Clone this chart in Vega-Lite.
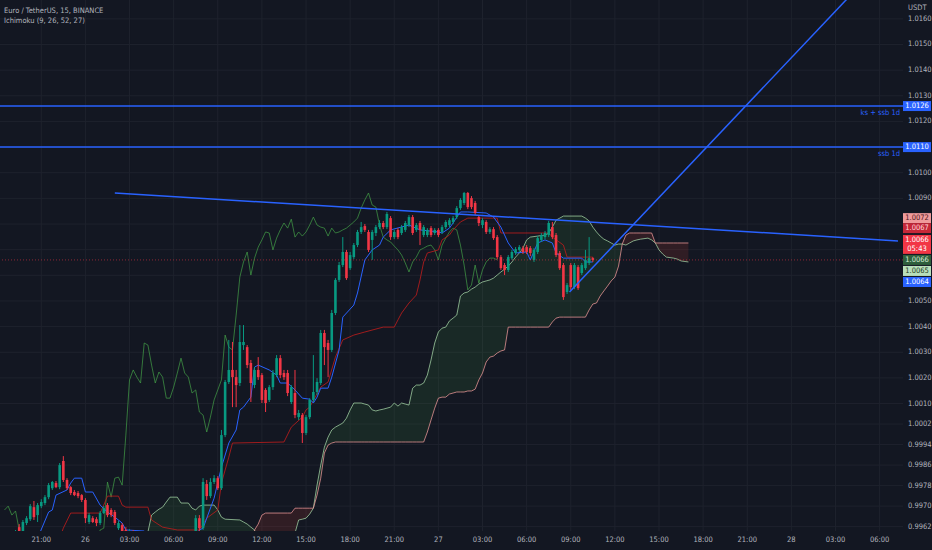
{
  "$schema": "https://vega.github.io/schema/vega-lite/v6.json",
  "description": "EUR/USDT 15m candles with Ichimoku (9, 26, 52, 27) and drawn levels, Binance.",
  "width": 903,
  "height": 531,
  "autosize": {"type": "none"},
  "padding": {"left": 0, "top": 0, "right": 29, "bottom": 19},
  "background": "#131722",
  "title": {
    "text": "Euro / TetherUS, 15, BINANCE",
    "subtitle": "Ichimoku (9, 26, 52, 27)",
    "anchor": "start",
    "orient": "top",
    "frame": "group",
    "offset": -25,
    "dx": 4,
    "fontSize": 7.5,
    "fontWeight": "normal",
    "color": "#b2b5be",
    "subtitleFontSize": 7.5,
    "subtitleColor": "#b2b5be",
    "subtitlePadding": 3
  },
  "datasets": {
    "xticks": [
      {"t":"2022-10-25T21:00Z","label":"21:00"},{"t":"2022-10-26T00:00Z","label":"26"},{"t":"2022-10-26T03:00Z","label":"03:00"},
      {"t":"2022-10-26T06:00Z","label":"06:00"},{"t":"2022-10-26T09:00Z","label":"09:00"},{"t":"2022-10-26T12:00Z","label":"12:00"},
      {"t":"2022-10-26T15:00Z","label":"15:00"},{"t":"2022-10-26T18:00Z","label":"18:00"},{"t":"2022-10-26T21:00Z","label":"21:00"},
      {"t":"2022-10-27T00:00Z","label":"27"},{"t":"2022-10-27T03:00Z","label":"03:00"},{"t":"2022-10-27T06:00Z","label":"06:00"},
      {"t":"2022-10-27T09:00Z","label":"09:00"},{"t":"2022-10-27T12:00Z","label":"12:00"},{"t":"2022-10-27T15:00Z","label":"15:00"},
      {"t":"2022-10-27T18:00Z","label":"18:00"},{"t":"2022-10-27T21:00Z","label":"21:00"},{"t":"2022-10-28T00:00Z","label":"28"},
      {"t":"2022-10-28T03:00Z","label":"03:00"},{"t":"2022-10-28T06:00Z","label":"06:00"}
    ],
    "yticks": [
      {"v":0.9962,"label":"0.9962"},{"v":0.9970,"label":"0.9970"},{"v":0.9978,"label":"0.9978"},{"v":0.9986,"label":"0.9986"},
      {"v":0.9994,"label":"0.9994"},{"v":1.0002,"label":"1.0002"},{"v":1.0010,"label":"1.0010"},{"v":1.0020,"label":"1.0020"},
      {"v":1.0030,"label":"1.0030"},{"v":1.0040,"label":"1.0040"},{"v":1.0050,"label":"1.0050"},{"v":1.0060,"label":""},
      {"v":1.0070,"label":""},{"v":1.0080,"label":""},{"v":1.0090,"label":"1.0090"},{"v":1.0100,"label":"1.0100"},
      {"v":1.0110,"label":""},{"v":1.0120,"label":"1.0120"},{"v":1.0130,"label":"1.0130"},{"v":1.0140,"label":"1.0140"},
      {"v":1.0150,"label":"1.0150"},{"v":1.0160,"label":"1.0160"}
    ],
    "unit": [{"p":1.01642,"label":"USDT"}],
    "candles": [
      {"t":"2022-10-25T18:45Z","o":0.99575,"h":0.99587,"l":0.99548,"c":0.99564},
      {"t":"2022-10-25T19:00Z","o":0.99564,"h":0.99583,"l":0.99552,"c":0.99579},
      {"t":"2022-10-25T19:15Z","o":0.99579,"h":0.99607,"l":0.99568,"c":0.99595},
      {"t":"2022-10-25T19:30Z","o":0.99618,"h":0.99630,"l":0.99579,"c":0.99595},
      {"t":"2022-10-25T19:45Z","o":0.99595,"h":0.99646,"l":0.99587,"c":0.99638},
      {"t":"2022-10-25T20:00Z","o":0.99634,"h":0.99661,"l":0.99626,"c":0.99653},
      {"t":"2022-10-25T20:15Z","o":0.99649,"h":0.99708,"l":0.99642,"c":0.99700},
      {"t":"2022-10-25T20:30Z","o":0.99696,"h":0.99720,"l":0.99646,"c":0.99657},
      {"t":"2022-10-25T20:45Z","o":0.99665,"h":0.99712,"l":0.99638,"c":0.99704},
      {"t":"2022-10-25T21:00Z","o":0.99700,"h":0.99727,"l":0.99692,"c":0.99716},
      {"t":"2022-10-25T21:15Z","o":0.99712,"h":0.99743,"l":0.99704,"c":0.99735},
      {"t":"2022-10-25T21:30Z","o":0.99735,"h":0.99790,"l":0.99727,"c":0.99782},
      {"t":"2022-10-25T21:45Z","o":0.99770,"h":0.99798,"l":0.99763,"c":0.99794},
      {"t":"2022-10-25T22:00Z","o":0.99790,"h":0.99798,"l":0.99770,"c":0.99774},
      {"t":"2022-10-25T22:15Z","o":0.99774,"h":0.99868,"l":0.99766,"c":0.99860},
      {"t":"2022-10-25T22:30Z","o":0.99876,"h":0.99895,"l":0.99794,"c":0.99802},
      {"t":"2022-10-25T22:45Z","o":0.99802,"h":0.99809,"l":0.99763,"c":0.99770},
      {"t":"2022-10-25T23:00Z","o":0.99774,"h":0.99778,"l":0.99743,"c":0.99751},
      {"t":"2022-10-25T23:15Z","o":0.99755,"h":0.99763,"l":0.99739,"c":0.99743},
      {"t":"2022-10-25T23:30Z","o":0.99751,"h":0.99759,"l":0.99731,"c":0.99739},
      {"t":"2022-10-25T23:45Z","o":0.99743,"h":0.99747,"l":0.99716,"c":0.99724},
      {"t":"2022-10-26T00:00Z","o":0.99724,"h":0.99731,"l":0.99634,"c":0.99653},
      {"t":"2022-10-26T00:15Z","o":0.99638,"h":0.99673,"l":0.99630,"c":0.99665},
      {"t":"2022-10-26T00:30Z","o":0.99653,"h":0.99661,"l":0.99634,"c":0.99638},
      {"t":"2022-10-26T00:45Z","o":0.99649,"h":0.99657,"l":0.99622,"c":0.99634},
      {"t":"2022-10-26T01:00Z","o":0.99634,"h":0.99681,"l":0.99626,"c":0.99673},
      {"t":"2022-10-26T01:15Z","o":0.99673,"h":0.99700,"l":0.99669,"c":0.99692},
      {"t":"2022-10-26T01:30Z","o":0.99704,"h":0.99712,"l":0.99657,"c":0.99665},
      {"t":"2022-10-26T01:45Z","o":0.99685,"h":0.99692,"l":0.99657,"c":0.99665},
      {"t":"2022-10-26T02:00Z","o":0.99677,"h":0.99685,"l":0.99626,"c":0.99634},
      {"t":"2022-10-26T02:15Z","o":0.99614,"h":0.99642,"l":0.99607,"c":0.99634},
      {"t":"2022-10-26T02:30Z","o":0.99626,"h":0.99634,"l":0.99587,"c":0.99599},
      {"t":"2022-10-26T02:45Z","o":0.99607,"h":0.99618,"l":0.99579,"c":0.99591},
      {"t":"2022-10-26T03:00Z","o":0.99587,"h":0.99610,"l":0.99579,"c":0.99603},
      {"t":"2022-10-26T03:15Z","o":0.99599,"h":0.99607,"l":0.99568,"c":0.99579},
      {"t":"2022-10-26T03:30Z","o":0.99583,"h":0.99591,"l":0.99556,"c":0.99568},
      {"t":"2022-10-26T03:45Z","o":0.99568,"h":0.99583,"l":0.99536,"c":0.99548},
      {"t":"2022-10-26T04:00Z","o":0.99548,"h":0.99560,"l":0.99529,"c":0.99536},
      {"t":"2022-10-26T04:15Z","o":0.99536,"h":0.99560,"l":0.99532,"c":0.99552},
      {"t":"2022-10-26T04:30Z","o":0.99552,"h":0.99556,"l":0.99521,"c":0.99529},
      {"t":"2022-10-26T04:45Z","o":0.99529,"h":0.99536,"l":0.99505,"c":0.99517},
      {"t":"2022-10-26T05:00Z","o":0.99517,"h":0.99540,"l":0.99505,"c":0.99532},
      {"t":"2022-10-26T05:15Z","o":0.99532,"h":0.99544,"l":0.99517,"c":0.99521},
      {"t":"2022-10-26T05:30Z","o":0.99521,"h":0.99532,"l":0.99505,"c":0.99517},
      {"t":"2022-10-26T05:45Z","o":0.99517,"h":0.99536,"l":0.99505,"c":0.99529},
      {"t":"2022-10-26T06:00Z","o":0.99529,"h":0.99548,"l":0.99521,"c":0.99540},
      {"t":"2022-10-26T06:15Z","o":0.99540,"h":0.99548,"l":0.99529,"c":0.99532},
      {"t":"2022-10-26T06:30Z","o":0.99532,"h":0.99560,"l":0.99529,"c":0.99552},
      {"t":"2022-10-26T06:45Z","o":0.99552,"h":0.99560,"l":0.99536,"c":0.99544},
      {"t":"2022-10-26T07:00Z","o":0.99544,"h":0.99575,"l":0.99540,"c":0.99568},
      {"t":"2022-10-26T07:15Z","o":0.99568,"h":0.99595,"l":0.99560,"c":0.99587},
      {"t":"2022-10-26T07:30Z","o":0.99587,"h":0.99665,"l":0.99575,"c":0.99653},
      {"t":"2022-10-26T07:45Z","o":0.99653,"h":0.99665,"l":0.99599,"c":0.99614},
      {"t":"2022-10-26T08:00Z","o":0.99614,"h":0.99809,"l":0.99607,"c":0.99794},
      {"t":"2022-10-26T08:15Z","o":0.99786,"h":0.99802,"l":0.99724,"c":0.99739},
      {"t":"2022-10-26T08:30Z","o":0.99739,"h":0.99809,"l":0.99731,"c":0.99794},
      {"t":"2022-10-26T08:45Z","o":0.99794,"h":0.99821,"l":0.99786,"c":0.99809},
      {"t":"2022-10-26T09:00Z","o":0.99809,"h":0.99817,"l":0.99763,"c":0.99770},
      {"t":"2022-10-26T09:15Z","o":0.99770,"h":0.99997,"l":0.99763,"c":0.99977},
      {"t":"2022-10-26T09:30Z","o":0.99977,"h":1.00192,"l":0.99969,"c":1.00184},
      {"t":"2022-10-26T09:45Z","o":1.00184,"h":1.00348,"l":1.00176,"c":1.00231},
      {"t":"2022-10-26T10:00Z","o":1.00231,"h":1.00340,"l":1.00086,"c":1.00203},
      {"t":"2022-10-26T10:15Z","o":1.00203,"h":1.00231,"l":1.00086,"c":1.00172},
      {"t":"2022-10-26T10:30Z","o":1.00180,"h":1.00406,"l":1.00168,"c":1.00340},
      {"t":"2022-10-26T10:45Z","o":1.00328,"h":1.00406,"l":1.00309,"c":1.00340},
      {"t":"2022-10-26T11:00Z","o":1.00320,"h":1.00328,"l":1.00238,"c":1.00250},
      {"t":"2022-10-26T11:15Z","o":1.00258,"h":1.00270,"l":1.00106,"c":1.00180},
      {"t":"2022-10-26T11:30Z","o":1.00172,"h":1.00242,"l":1.00160,"c":1.00231},
      {"t":"2022-10-26T11:45Z","o":1.00231,"h":1.00281,"l":1.00192,"c":1.00203},
      {"t":"2022-10-26T12:00Z","o":1.00211,"h":1.00219,"l":1.00102,"c":1.00114},
      {"t":"2022-10-26T12:15Z","o":1.00153,"h":1.00160,"l":1.00067,"c":1.00102},
      {"t":"2022-10-26T12:30Z","o":1.00114,"h":1.00172,"l":1.00106,"c":1.00164},
      {"t":"2022-10-26T12:45Z","o":1.00164,"h":1.00231,"l":1.00153,"c":1.00219},
      {"t":"2022-10-26T13:00Z","o":1.00211,"h":1.00289,"l":1.00203,"c":1.00277},
      {"t":"2022-10-26T13:15Z","o":1.00277,"h":1.00289,"l":1.00199,"c":1.00211},
      {"t":"2022-10-26T13:30Z","o":1.00219,"h":1.00231,"l":1.00192,"c":1.00203},
      {"t":"2022-10-26T13:45Z","o":1.00219,"h":1.00231,"l":1.00129,"c":1.00141},
      {"t":"2022-10-26T14:00Z","o":1.00106,"h":1.00172,"l":1.00098,"c":1.00164},
      {"t":"2022-10-26T14:15Z","o":1.00141,"h":1.00231,"l":1.00043,"c":1.00055},
      {"t":"2022-10-26T14:30Z","o":1.00047,"h":1.00075,"l":1.00036,"c":1.00063},
      {"t":"2022-10-26T14:45Z","o":1.00055,"h":1.00063,"l":0.99946,"c":0.99985},
      {"t":"2022-10-26T15:00Z","o":0.99985,"h":1.00055,"l":0.99977,"c":1.00047},
      {"t":"2022-10-26T15:15Z","o":1.00047,"h":1.00121,"l":1.00039,"c":1.00114},
      {"t":"2022-10-26T15:30Z","o":1.00114,"h":1.00289,"l":1.00106,"c":1.00145},
      {"t":"2022-10-26T15:45Z","o":1.00145,"h":1.00199,"l":1.00133,"c":1.00184},
      {"t":"2022-10-26T16:00Z","o":1.00180,"h":1.00387,"l":1.00172,"c":1.00375},
      {"t":"2022-10-26T16:15Z","o":1.00375,"h":1.00387,"l":1.00250,"c":1.00320},
      {"t":"2022-10-26T16:30Z","o":1.00336,"h":1.00348,"l":1.00203,"c":1.00309},
      {"t":"2022-10-26T16:45Z","o":1.00309,"h":1.00465,"l":1.00301,"c":1.00453},
      {"t":"2022-10-26T17:00Z","o":1.00453,"h":1.00589,"l":1.00445,"c":1.00582},
      {"t":"2022-10-26T17:15Z","o":1.00582,"h":1.00652,"l":1.00574,"c":1.00640},
      {"t":"2022-10-26T17:30Z","o":1.00640,"h":1.00749,"l":1.00632,"c":1.00691},
      {"t":"2022-10-26T17:45Z","o":1.00691,"h":1.00699,"l":1.00582,"c":1.00589},
      {"t":"2022-10-26T18:00Z","o":1.00628,"h":1.00691,"l":1.00621,"c":1.00679},
      {"t":"2022-10-26T18:15Z","o":1.00671,"h":1.00726,"l":1.00663,"c":1.00718},
      {"t":"2022-10-26T18:30Z","o":1.00718,"h":1.00777,"l":1.00710,"c":1.00769},
      {"t":"2022-10-26T18:45Z","o":1.00769,"h":1.00808,"l":1.00761,"c":1.00788},
      {"t":"2022-10-26T19:00Z","o":1.00792,"h":1.00800,"l":1.00769,"c":1.00777},
      {"t":"2022-10-26T19:15Z","o":1.00769,"h":1.00777,"l":1.00691,"c":1.00699},
      {"t":"2022-10-26T19:30Z","o":1.00738,"h":1.00777,"l":1.00660,"c":1.00769},
      {"t":"2022-10-26T19:45Z","o":1.00765,"h":1.00796,"l":1.00753,"c":1.00788},
      {"t":"2022-10-26T20:00Z","o":1.00788,"h":1.00815,"l":1.00780,"c":1.00804},
      {"t":"2022-10-26T20:15Z","o":1.00804,"h":1.00812,"l":1.00780,"c":1.00788},
      {"t":"2022-10-26T20:30Z","o":1.00788,"h":1.00847,"l":1.00780,"c":1.00839},
      {"t":"2022-10-26T20:45Z","o":1.00823,"h":1.00831,"l":1.00738,"c":1.00749},
      {"t":"2022-10-26T21:00Z","o":1.00749,"h":1.00777,"l":1.00741,"c":1.00769},
      {"t":"2022-10-26T21:15Z","o":1.00777,"h":1.00784,"l":1.00741,"c":1.00749},
      {"t":"2022-10-26T21:30Z","o":1.00765,"h":1.00796,"l":1.00757,"c":1.00788},
      {"t":"2022-10-26T21:45Z","o":1.00777,"h":1.00812,"l":1.00769,"c":1.00804},
      {"t":"2022-10-26T22:00Z","o":1.00796,"h":1.00835,"l":1.00788,"c":1.00827},
      {"t":"2022-10-26T22:15Z","o":1.00827,"h":1.00835,"l":1.00757,"c":1.00765},
      {"t":"2022-10-26T22:30Z","o":1.00777,"h":1.00804,"l":1.00769,"c":1.00796},
      {"t":"2022-10-26T22:45Z","o":1.00804,"h":1.00812,"l":1.00718,"c":1.00777},
      {"t":"2022-10-26T23:00Z","o":1.00757,"h":1.00796,"l":1.00749,"c":1.00788},
      {"t":"2022-10-26T23:15Z","o":1.00757,"h":1.00784,"l":1.00749,"c":1.00777},
      {"t":"2022-10-26T23:30Z","o":1.00784,"h":1.00792,"l":1.00749,"c":1.00757},
      {"t":"2022-10-26T23:45Z","o":1.00765,"h":1.00784,"l":1.00757,"c":1.00777},
      {"t":"2022-10-27T00:00Z","o":1.00777,"h":1.00784,"l":1.00749,"c":1.00757},
      {"t":"2022-10-27T00:15Z","o":1.00769,"h":1.00796,"l":1.00761,"c":1.00788},
      {"t":"2022-10-27T00:30Z","o":1.00788,"h":1.00815,"l":1.00780,"c":1.00808},
      {"t":"2022-10-27T00:45Z","o":1.00796,"h":1.00823,"l":1.00788,"c":1.00815},
      {"t":"2022-10-27T01:00Z","o":1.00808,"h":1.00831,"l":1.00800,"c":1.00823},
      {"t":"2022-10-27T01:15Z","o":1.00827,"h":1.00870,"l":1.00819,"c":1.00862},
      {"t":"2022-10-27T01:30Z","o":1.00862,"h":1.00901,"l":1.00855,"c":1.00894},
      {"t":"2022-10-27T01:45Z","o":1.00882,"h":1.00925,"l":1.00874,"c":1.00921},
      {"t":"2022-10-27T02:00Z","o":1.00921,"h":1.00925,"l":1.00858,"c":1.00866},
      {"t":"2022-10-27T02:15Z","o":1.00901,"h":1.00909,"l":1.00858,"c":1.00866},
      {"t":"2022-10-27T02:30Z","o":1.00882,"h":1.00890,"l":1.00835,"c":1.00843},
      {"t":"2022-10-27T02:45Z","o":1.00827,"h":1.00835,"l":1.00792,"c":1.00804},
      {"t":"2022-10-27T03:00Z","o":1.00796,"h":1.00823,"l":1.00784,"c":1.00815},
      {"t":"2022-10-27T03:15Z","o":1.00808,"h":1.00815,"l":1.00761,"c":1.00769},
      {"t":"2022-10-27T03:30Z","o":1.00769,"h":1.00788,"l":1.00761,"c":1.00780},
      {"t":"2022-10-27T03:45Z","o":1.00780,"h":1.00788,"l":1.00738,"c":1.00745},
      {"t":"2022-10-27T04:00Z","o":1.00749,"h":1.00757,"l":1.00663,"c":1.00671},
      {"t":"2022-10-27T04:15Z","o":1.00671,"h":1.00679,"l":1.00621,"c":1.00628},
      {"t":"2022-10-27T04:30Z","o":1.00640,"h":1.00648,"l":1.00601,"c":1.00621},
      {"t":"2022-10-27T04:45Z","o":1.00621,"h":1.00679,"l":1.00613,"c":1.00671},
      {"t":"2022-10-27T05:00Z","o":1.00667,"h":1.00699,"l":1.00660,"c":1.00691},
      {"t":"2022-10-27T05:15Z","o":1.00687,"h":1.00710,"l":1.00679,"c":1.00702},
      {"t":"2022-10-27T05:30Z","o":1.00699,"h":1.00718,"l":1.00691,"c":1.00710},
      {"t":"2022-10-27T05:45Z","o":1.00706,"h":1.00714,"l":1.00683,"c":1.00691},
      {"t":"2022-10-27T06:00Z","o":1.00710,"h":1.00718,"l":1.00683,"c":1.00691},
      {"t":"2022-10-27T06:15Z","o":1.00706,"h":1.00714,"l":1.00675,"c":1.00687},
      {"t":"2022-10-27T06:30Z","o":1.00660,"h":1.00706,"l":1.00652,"c":1.00699},
      {"t":"2022-10-27T06:45Z","o":1.00691,"h":1.00753,"l":1.00683,"c":1.00745},
      {"t":"2022-10-27T07:00Z","o":1.00738,"h":1.00765,"l":1.00730,"c":1.00757},
      {"t":"2022-10-27T07:15Z","o":1.00749,"h":1.00773,"l":1.00741,"c":1.00765},
      {"t":"2022-10-27T07:30Z","o":1.00757,"h":1.00812,"l":1.00749,"c":1.00804},
      {"t":"2022-10-27T07:45Z","o":1.00788,"h":1.00808,"l":1.00741,"c":1.00749},
      {"t":"2022-10-27T08:00Z","o":1.00757,"h":1.00765,"l":1.00671,"c":1.00679},
      {"t":"2022-10-27T08:15Z","o":1.00687,"h":1.00695,"l":1.00621,"c":1.00628},
      {"t":"2022-10-27T08:30Z","o":1.00640,"h":1.00648,"l":1.00504,"c":1.00515},
      {"t":"2022-10-27T08:45Z","o":1.00535,"h":1.00570,"l":1.00527,"c":1.00562},
      {"t":"2022-10-27T09:00Z","o":1.00640,"h":1.00648,"l":1.00543,"c":1.00554},
      {"t":"2022-10-27T09:15Z","o":1.00554,"h":1.00648,"l":1.00546,"c":1.00640},
      {"t":"2022-10-27T09:30Z","o":1.00632,"h":1.00640,"l":1.00543,"c":1.00550},
      {"t":"2022-10-27T09:45Z","o":1.00609,"h":1.00648,"l":1.00601,"c":1.00640},
      {"t":"2022-10-27T10:00Z","o":1.00628,"h":1.00699,"l":1.00621,"c":1.00660},
      {"t":"2022-10-27T10:15Z","o":1.00648,"h":1.00749,"l":1.00640,"c":1.00667},
      {"t":"2022-10-27T10:30Z","o":1.00667,"h":1.00671,"l":1.00652,"c":1.00660}
    ],
    "tenkan": [
      {"t":"2022-10-25T20:45Z","v":0.99575},{"t":"2022-10-25T21:30Z","v":0.99677},{"t":"2022-10-25T21:45Z","v":0.99685},
      {"t":"2022-10-25T22:00Z","v":0.99743},{"t":"2022-10-25T22:45Z","v":0.99763},{"t":"2022-10-25T23:00Z","v":0.99790},
      {"t":"2022-10-25T23:15Z","v":0.99809},{"t":"2022-10-25T23:45Z","v":0.99809},{"t":"2022-10-26T00:00Z","v":0.99755},
      {"t":"2022-10-26T00:30Z","v":0.99755},{"t":"2022-10-26T01:00Z","v":0.99704},{"t":"2022-10-26T01:30Z","v":0.99677},
      {"t":"2022-10-26T02:00Z","v":0.99657},{"t":"2022-10-26T02:30Z","v":0.99634},{"t":"2022-10-26T02:45Z","v":0.99607},
      {"t":"2022-10-26T04:00Z","v":0.99603},{"t":"2022-10-26T04:30Z","v":0.99548},{"t":"2022-10-26T07:00Z","v":0.99548},
      {"t":"2022-10-26T07:45Z","v":0.99607},{"t":"2022-10-26T08:00Z","v":0.99614},{"t":"2022-10-26T08:45Z","v":0.99731},
      {"t":"2022-10-26T09:15Z","v":0.99852},{"t":"2022-10-26T09:45Z","v":0.99946},{"t":"2022-10-26T10:15Z","v":0.99997},
      {"t":"2022-10-26T10:30Z","v":1.00075},{"t":"2022-10-26T10:45Z","v":1.00086},{"t":"2022-10-26T11:15Z","v":1.00125},
      {"t":"2022-10-26T11:30Z","v":1.00242},{"t":"2022-10-26T11:45Z","v":1.00250},{"t":"2022-10-26T12:30Z","v":1.00231},
      {"t":"2022-10-26T13:00Z","v":1.00211},{"t":"2022-10-26T13:15Z","v":1.00180},{"t":"2022-10-26T13:45Z","v":1.00180},
      {"t":"2022-10-26T14:15Z","v":1.00153},{"t":"2022-10-26T14:45Z","v":1.00121},{"t":"2022-10-26T15:15Z","v":1.00117},
      {"t":"2022-10-26T15:30Z","v":1.00102},{"t":"2022-10-26T15:45Z","v":1.00125},{"t":"2022-10-26T16:00Z","v":1.00160},
      {"t":"2022-10-26T16:30Z","v":1.00160},{"t":"2022-10-26T16:45Z","v":1.00203},{"t":"2022-10-26T17:15Z","v":1.00309},
      {"t":"2022-10-26T17:30Z","v":1.00437},{"t":"2022-10-26T18:15Z","v":1.00484},{"t":"2022-10-26T18:30Z","v":1.00531},
      {"t":"2022-10-26T19:00Z","v":1.00660},{"t":"2022-10-26T19:30Z","v":1.00699},{"t":"2022-10-26T20:00Z","v":1.00718},
      {"t":"2022-10-26T20:15Z","v":1.00749},{"t":"2022-10-26T20:45Z","v":1.00777},{"t":"2022-10-26T22:00Z","v":1.00796},
      {"t":"2022-10-26T22:45Z","v":1.00777},{"t":"2022-10-27T00:00Z","v":1.00769},{"t":"2022-10-27T00:15Z","v":1.00765},
      {"t":"2022-10-27T00:45Z","v":1.00784},{"t":"2022-10-27T01:00Z","v":1.00804},{"t":"2022-10-27T01:15Z","v":1.00827},
      {"t":"2022-10-27T01:30Z","v":1.00847},{"t":"2022-10-27T02:00Z","v":1.00847},{"t":"2022-10-27T03:15Z","v":1.00843},
      {"t":"2022-10-27T03:45Z","v":1.00827},{"t":"2022-10-27T04:15Z","v":1.00788},{"t":"2022-10-27T04:45Z","v":1.00726},
      {"t":"2022-10-27T05:15Z","v":1.00687},{"t":"2022-10-27T06:00Z","v":1.00691},{"t":"2022-10-27T06:15Z","v":1.00660},
      {"t":"2022-10-27T06:45Z","v":1.00726},{"t":"2022-10-27T07:15Z","v":1.00738},{"t":"2022-10-27T07:45Z","v":1.00726},
      {"t":"2022-10-27T08:00Z","v":1.00687},{"t":"2022-10-27T08:30Z","v":1.00667},{"t":"2022-10-27T09:45Z","v":1.00667},
      {"t":"2022-10-27T10:00Z","v":1.00652},{"t":"2022-10-27T10:30Z","v":1.00652}
    ],
    "kijun": [
      {"t":"2022-10-25T22:15Z","v":0.99575},{"t":"2022-10-25T22:30Z","v":0.99614},{"t":"2022-10-25T23:00Z","v":0.99673},
      {"t":"2022-10-26T01:00Z","v":0.99673},{"t":"2022-10-26T01:15Z","v":0.99704},{"t":"2022-10-26T01:30Z","v":0.99739},
      {"t":"2022-10-26T02:15Z","v":0.99739},{"t":"2022-10-26T02:30Z","v":0.99704},{"t":"2022-10-26T02:45Z","v":0.99696},
      {"t":"2022-10-26T04:15Z","v":0.99696},{"t":"2022-10-26T04:30Z","v":0.99646},{"t":"2022-10-26T05:15Z","v":0.99618},
      {"t":"2022-10-26T06:15Z","v":0.99607},{"t":"2022-10-26T07:45Z","v":0.99607},{"t":"2022-10-26T08:15Z","v":0.99653},
      {"t":"2022-10-26T09:00Z","v":0.99685},{"t":"2022-10-26T09:15Z","v":0.99790},{"t":"2022-10-26T09:45Z","v":0.99891},
      {"t":"2022-10-26T10:00Z","v":0.99946},{"t":"2022-10-26T13:30Z","v":0.99950},{"t":"2022-10-26T14:00Z","v":1.00008},
      {"t":"2022-10-26T14:45Z","v":1.00047},{"t":"2022-10-26T15:00Z","v":1.00075},{"t":"2022-10-26T15:15Z","v":1.00086},
      {"t":"2022-10-26T16:00Z","v":1.00164},{"t":"2022-10-26T16:30Z","v":1.00184},{"t":"2022-10-26T17:00Z","v":1.00281},
      {"t":"2022-10-26T17:30Z","v":1.00348},{"t":"2022-10-26T18:15Z","v":1.00367},{"t":"2022-10-26T19:00Z","v":1.00379},
      {"t":"2022-10-26T20:15Z","v":1.00398},{"t":"2022-10-26T21:00Z","v":1.00398},{"t":"2022-10-26T21:15Z","v":1.00426},
      {"t":"2022-10-26T21:30Z","v":1.00453},{"t":"2022-10-26T22:00Z","v":1.00492},{"t":"2022-10-26T22:30Z","v":1.00523},
      {"t":"2022-10-26T22:45Z","v":1.00582},{"t":"2022-10-26T23:00Z","v":1.00652},{"t":"2022-10-26T23:15Z","v":1.00687},
      {"t":"2022-10-27T00:00Z","v":1.00699},{"t":"2022-10-27T00:15Z","v":1.00738},{"t":"2022-10-27T00:45Z","v":1.00757},
      {"t":"2022-10-27T01:00Z","v":1.00777},{"t":"2022-10-27T01:30Z","v":1.00808},{"t":"2022-10-27T02:00Z","v":1.00823},
      {"t":"2022-10-27T04:00Z","v":1.00823},{"t":"2022-10-27T04:15Z","v":1.00765},{"t":"2022-10-27T07:30Z","v":1.00765},
      {"t":"2022-10-27T07:45Z","v":1.00749},{"t":"2022-10-27T08:30Z","v":1.00718},{"t":"2022-10-27T08:45Z","v":1.00671},
      {"t":"2022-10-27T10:30Z","v":1.00671}
    ],
    "lagging": [
      {"t":"2022-10-25T18:30Z","v":0.99685},{"t":"2022-10-25T18:45Z","v":0.99700},{"t":"2022-10-25T19:00Z","v":0.99665},
      {"t":"2022-10-25T19:15Z","v":0.99681},{"t":"2022-10-25T19:30Z","v":0.99607},{"t":"2022-10-25T19:45Z","v":0.99575},
      {"t":"2022-10-25T20:15Z","v":0.99548},{"t":"2022-10-25T22:30Z","v":0.99529},{"t":"2022-10-26T00:45Z","v":0.99548},
      {"t":"2022-10-26T01:00Z","v":0.99607},{"t":"2022-10-26T01:15Z","v":0.99614},{"t":"2022-10-26T01:30Z","v":0.99794},
      {"t":"2022-10-26T01:45Z","v":0.99735},{"t":"2022-10-26T02:00Z","v":0.99809},{"t":"2022-10-26T02:15Z","v":0.99813},
      {"t":"2022-10-26T02:30Z","v":0.99782},{"t":"2022-10-26T02:45Z","v":0.99977},{"t":"2022-10-26T03:00Z","v":1.00192},
      {"t":"2022-10-26T03:15Z","v":1.00231},{"t":"2022-10-26T03:30Z","v":1.00203},{"t":"2022-10-26T03:45Z","v":1.00180},
      {"t":"2022-10-26T04:00Z","v":1.00336},{"t":"2022-10-26T04:15Z","v":1.00328},{"t":"2022-10-26T04:30Z","v":1.00250},
      {"t":"2022-10-26T04:45Z","v":1.00180},{"t":"2022-10-26T05:00Z","v":1.00223},{"t":"2022-10-26T05:15Z","v":1.00203},
      {"t":"2022-10-26T05:30Z","v":1.00121},{"t":"2022-10-26T05:45Z","v":1.00121},{"t":"2022-10-26T06:00Z","v":1.00164},
      {"t":"2022-10-26T06:15Z","v":1.00219},{"t":"2022-10-26T06:30Z","v":1.00277},{"t":"2022-10-26T06:45Z","v":1.00219},
      {"t":"2022-10-26T07:00Z","v":1.00203},{"t":"2022-10-26T07:15Z","v":1.00141},{"t":"2022-10-26T07:30Z","v":1.00153},
      {"t":"2022-10-26T07:45Z","v":1.00067},{"t":"2022-10-26T08:00Z","v":1.00055},{"t":"2022-10-26T08:15Z","v":0.99989},
      {"t":"2022-10-26T08:30Z","v":1.00047},{"t":"2022-10-26T08:45Z","v":1.00114},{"t":"2022-10-26T09:00Z","v":1.00153},
      {"t":"2022-10-26T09:15Z","v":1.00192},{"t":"2022-10-26T09:30Z","v":1.00367},{"t":"2022-10-26T09:45Z","v":1.00320},
      {"t":"2022-10-26T10:00Z","v":1.00309},{"t":"2022-10-26T10:15Z","v":1.00445},{"t":"2022-10-26T10:30Z","v":1.00593},
      {"t":"2022-10-26T10:45Z","v":1.00652},{"t":"2022-10-26T11:00Z","v":1.00691},{"t":"2022-10-26T11:15Z","v":1.00601},
      {"t":"2022-10-26T11:30Z","v":1.00667},{"t":"2022-10-26T11:45Z","v":1.00710},{"t":"2022-10-26T12:00Z","v":1.00738},
      {"t":"2022-10-26T12:15Z","v":1.00769},{"t":"2022-10-26T12:30Z","v":1.00765},{"t":"2022-10-26T12:45Z","v":1.00699},
      {"t":"2022-10-26T13:00Z","v":1.00745},{"t":"2022-10-26T13:15Z","v":1.00777},{"t":"2022-10-26T13:30Z","v":1.00804},
      {"t":"2022-10-26T13:45Z","v":1.00784},{"t":"2022-10-26T14:00Z","v":1.00819},{"t":"2022-10-26T14:15Z","v":1.00749},
      {"t":"2022-10-26T14:30Z","v":1.00769},{"t":"2022-10-26T14:45Z","v":1.00753},{"t":"2022-10-26T15:00Z","v":1.00769},
      {"t":"2022-10-26T15:15Z","v":1.00796},{"t":"2022-10-26T15:30Z","v":1.00827},{"t":"2022-10-26T15:45Z","v":1.00796},
      {"t":"2022-10-26T16:00Z","v":1.00788},{"t":"2022-10-26T16:15Z","v":1.00784},{"t":"2022-10-26T16:30Z","v":1.00753},
      {"t":"2022-10-26T16:45Z","v":1.00784},{"t":"2022-10-26T17:00Z","v":1.00765},{"t":"2022-10-26T17:15Z","v":1.00769},
      {"t":"2022-10-26T17:30Z","v":1.00777},{"t":"2022-10-26T17:45Z","v":1.00784},{"t":"2022-10-26T18:00Z","v":1.00796},
      {"t":"2022-10-26T18:15Z","v":1.00808},{"t":"2022-10-26T18:30Z","v":1.00823},{"t":"2022-10-26T18:45Z","v":1.00862},
      {"t":"2022-10-26T19:00Z","v":1.00894},{"t":"2022-10-26T19:15Z","v":1.00921},{"t":"2022-10-26T19:30Z","v":1.00874},
      {"t":"2022-10-26T19:45Z","v":1.00866},{"t":"2022-10-26T20:00Z","v":1.00796},{"t":"2022-10-26T20:15Z","v":1.00749},
      {"t":"2022-10-26T20:30Z","v":1.00738},{"t":"2022-10-26T20:45Z","v":1.00730},{"t":"2022-10-26T21:00Z","v":1.00714},
      {"t":"2022-10-26T21:15Z","v":1.00699},{"t":"2022-10-26T21:30Z","v":1.00679},{"t":"2022-10-26T21:45Z","v":1.00648},
      {"t":"2022-10-26T22:00Z","v":1.00613},{"t":"2022-10-26T22:15Z","v":1.00652},{"t":"2022-10-26T22:30Z","v":1.00671},
      {"t":"2022-10-26T22:45Z","v":1.00699},{"t":"2022-10-26T23:00Z","v":1.00706},{"t":"2022-10-26T23:15Z","v":1.00714},
      {"t":"2022-10-26T23:30Z","v":1.00718},{"t":"2022-10-26T23:45Z","v":1.00699},{"t":"2022-10-27T00:00Z","v":1.00660},
      {"t":"2022-10-27T00:15Z","v":1.00718},{"t":"2022-10-27T00:30Z","v":1.00745},{"t":"2022-10-27T00:45Z","v":1.00769},
      {"t":"2022-10-27T01:00Z","v":1.00784},{"t":"2022-10-27T01:15Z","v":1.00777},{"t":"2022-10-27T01:30Z","v":1.00718},
      {"t":"2022-10-27T01:45Z","v":1.00640},{"t":"2022-10-27T02:00Z","v":1.00543},{"t":"2022-10-27T02:15Z","v":1.00562},
      {"t":"2022-10-27T02:30Z","v":1.00640},{"t":"2022-10-27T02:45Z","v":1.00570},{"t":"2022-10-27T03:00Z","v":1.00621},
      {"t":"2022-10-27T03:15Z","v":1.00652},{"t":"2022-10-27T03:30Z","v":1.00667},{"t":"2022-10-27T03:45Z","v":1.00667},
      {"t":"2022-10-27T04:00Z","v":1.00660}
    ],
    "cloud": [
      {"t":"2022-10-26T04:00Z","a":0.99568,"b":0.99529,"seg":"s1","trend":"up"},
      {"t":"2022-10-26T04:15Z","a":0.99599,"b":0.99529,"seg":"s1","trend":"up"},
      {"t":"2022-10-26T04:30Z","a":0.99665,"b":0.99529,"seg":"s1","trend":"up"},
      {"t":"2022-10-26T04:45Z","a":0.99677,"b":0.99529,"seg":"s1","trend":"up"},
      {"t":"2022-10-26T05:00Z","a":0.99688,"b":0.99529,"seg":"s1","trend":"up"},
      {"t":"2022-10-26T05:15Z","a":0.99696,"b":0.99529,"seg":"s1","trend":"up"},
      {"t":"2022-10-26T05:30Z","a":0.99716,"b":0.99529,"seg":"s1","trend":"up"},
      {"t":"2022-10-26T05:45Z","a":0.99735,"b":0.99529,"seg":"s1","trend":"up"},
      {"t":"2022-10-26T06:15Z","a":0.99735,"b":0.99529,"seg":"s1","trend":"up"},
      {"t":"2022-10-26T06:30Z","a":0.99712,"b":0.99529,"seg":"s1","trend":"up"},
      {"t":"2022-10-26T07:00Z","a":0.99712,"b":0.99529,"seg":"s1","trend":"up"},
      {"t":"2022-10-26T07:15Z","a":0.99692,"b":0.99529,"seg":"s1","trend":"up"},
      {"t":"2022-10-26T07:30Z","a":0.99685,"b":0.99529,"seg":"s1","trend":"up"},
      {"t":"2022-10-26T07:45Z","a":0.99700,"b":0.99529,"seg":"s1","trend":"up"},
      {"t":"2022-10-26T08:00Z","a":0.99704,"b":0.99529,"seg":"s1","trend":"up"},
      {"t":"2022-10-26T08:45Z","a":0.99704,"b":0.99529,"seg":"s1","trend":"up"},
      {"t":"2022-10-26T09:00Z","a":0.99685,"b":0.99529,"seg":"s1","trend":"up"},
      {"t":"2022-10-26T09:15Z","a":0.99657,"b":0.99529,"seg":"s1","trend":"up"},
      {"t":"2022-10-26T09:30Z","a":0.99649,"b":0.99529,"seg":"s1","trend":"up"},
      {"t":"2022-10-26T10:30Z","a":0.99646,"b":0.99529,"seg":"s1","trend":"up"},
      {"t":"2022-10-26T10:45Z","a":0.99638,"b":0.99529,"seg":"s1","trend":"up"},
      {"t":"2022-10-26T11:00Z","a":0.99630,"b":0.99529,"seg":"s1","trend":"up"},
      {"t":"2022-10-26T11:15Z","a":0.99618,"b":0.99529,"seg":"s1","trend":"up"},
      {"t":"2022-10-26T11:30Z","a":0.99607,"b":0.99607,"seg":"s1","trend":"up"},
      {"t":"2022-10-26T11:30Z","a":0.99607,"b":0.99607,"seg":"s2","trend":"down"},
      {"t":"2022-10-26T11:45Z","a":0.99568,"b":0.99630,"seg":"s2","trend":"down"},
      {"t":"2022-10-26T12:00Z","a":0.99548,"b":0.99665,"seg":"s2","trend":"down"},
      {"t":"2022-10-26T12:15Z","a":0.99536,"b":0.99673,"seg":"s2","trend":"down"},
      {"t":"2022-10-26T13:45Z","a":0.99536,"b":0.99673,"seg":"s2","trend":"down"},
      {"t":"2022-10-26T14:00Z","a":0.99548,"b":0.99673,"seg":"s2","trend":"down"},
      {"t":"2022-10-26T14:15Z","a":0.99595,"b":0.99692,"seg":"s2","trend":"down"},
      {"t":"2022-10-26T14:30Z","a":0.99646,"b":0.99692,"seg":"s2","trend":"down"},
      {"t":"2022-10-26T14:45Z","a":0.99649,"b":0.99692,"seg":"s2","trend":"down"},
      {"t":"2022-10-26T15:00Z","a":0.99653,"b":0.99692,"seg":"s2","trend":"down"},
      {"t":"2022-10-26T15:15Z","a":0.99669,"b":0.99692,"seg":"s2","trend":"down"},
      {"t":"2022-10-26T15:30Z","a":0.99692,"b":0.99692,"seg":"s2","trend":"down"},
      {"t":"2022-10-26T15:30Z","a":0.99692,"b":0.99692,"seg":"s3","trend":"up"},
      {"t":"2022-10-26T15:45Z","a":0.99782,"b":0.99743,"seg":"s3","trend":"up"},
      {"t":"2022-10-26T16:00Z","a":0.99860,"b":0.99809,"seg":"s3","trend":"up"},
      {"t":"2022-10-26T16:15Z","a":0.99930,"b":0.99907,"seg":"s3","trend":"up"},
      {"t":"2022-10-26T16:30Z","a":0.99969,"b":0.99938,"seg":"s3","trend":"up"},
      {"t":"2022-10-26T16:45Z","a":0.99997,"b":0.99946,"seg":"s3","trend":"up"},
      {"t":"2022-10-26T17:00Z","a":1.00008,"b":0.99950,"seg":"s3","trend":"up"},
      {"t":"2022-10-26T17:15Z","a":1.00016,"b":0.99950,"seg":"s3","trend":"up"},
      {"t":"2022-10-26T17:30Z","a":1.00024,"b":0.99950,"seg":"s3","trend":"up"},
      {"t":"2022-10-26T17:45Z","a":1.00043,"b":0.99950,"seg":"s3","trend":"up"},
      {"t":"2022-10-26T18:00Z","a":1.00075,"b":0.99950,"seg":"s3","trend":"up"},
      {"t":"2022-10-26T18:15Z","a":1.00102,"b":0.99950,"seg":"s3","trend":"up"},
      {"t":"2022-10-26T18:45Z","a":1.00102,"b":0.99950,"seg":"s3","trend":"up"},
      {"t":"2022-10-26T19:00Z","a":1.00098,"b":0.99950,"seg":"s3","trend":"up"},
      {"t":"2022-10-26T19:15Z","a":1.00094,"b":0.99950,"seg":"s3","trend":"up"},
      {"t":"2022-10-26T19:30Z","a":1.00075,"b":0.99950,"seg":"s3","trend":"up"},
      {"t":"2022-10-26T19:45Z","a":1.00071,"b":0.99950,"seg":"s3","trend":"up"},
      {"t":"2022-10-26T20:00Z","a":1.00075,"b":0.99950,"seg":"s3","trend":"up"},
      {"t":"2022-10-26T20:15Z","a":1.00078,"b":0.99950,"seg":"s3","trend":"up"},
      {"t":"2022-10-26T20:45Z","a":1.00086,"b":0.99950,"seg":"s3","trend":"up"},
      {"t":"2022-10-26T21:00Z","a":1.00102,"b":0.99950,"seg":"s3","trend":"up"},
      {"t":"2022-10-26T21:15Z","a":1.00090,"b":0.99950,"seg":"s3","trend":"up"},
      {"t":"2022-10-26T21:30Z","a":1.00102,"b":0.99950,"seg":"s3","trend":"up"},
      {"t":"2022-10-26T21:45Z","a":1.00098,"b":0.99950,"seg":"s3","trend":"up"},
      {"t":"2022-10-26T22:00Z","a":1.00094,"b":0.99950,"seg":"s3","trend":"up"},
      {"t":"2022-10-26T22:15Z","a":1.00160,"b":0.99950,"seg":"s3","trend":"up"},
      {"t":"2022-10-26T22:30Z","a":1.00172,"b":0.99950,"seg":"s3","trend":"up"},
      {"t":"2022-10-26T22:45Z","a":1.00172,"b":0.99950,"seg":"s3","trend":"up"},
      {"t":"2022-10-26T23:00Z","a":1.00180,"b":0.99950,"seg":"s3","trend":"up"},
      {"t":"2022-10-26T23:15Z","a":1.00211,"b":0.99989,"seg":"s3","trend":"up"},
      {"t":"2022-10-26T23:30Z","a":1.00270,"b":1.00036,"seg":"s3","trend":"up"},
      {"t":"2022-10-26T23:45Z","a":1.00336,"b":1.00082,"seg":"s3","trend":"up"},
      {"t":"2022-10-27T00:00Z","a":1.00379,"b":1.00121,"seg":"s3","trend":"up"},
      {"t":"2022-10-27T00:15Z","a":1.00394,"b":1.00125,"seg":"s3","trend":"up"},
      {"t":"2022-10-27T00:30Z","a":1.00398,"b":1.00125,"seg":"s3","trend":"up"},
      {"t":"2022-10-27T00:45Z","a":1.00422,"b":1.00137,"seg":"s3","trend":"up"},
      {"t":"2022-10-27T01:00Z","a":1.00433,"b":1.00141,"seg":"s3","trend":"up"},
      {"t":"2022-10-27T01:15Z","a":1.00445,"b":1.00145,"seg":"s3","trend":"up"},
      {"t":"2022-10-27T01:30Z","a":1.00519,"b":1.00145,"seg":"s3","trend":"up"},
      {"t":"2022-10-27T01:45Z","a":1.00531,"b":1.00145,"seg":"s3","trend":"up"},
      {"t":"2022-10-27T02:00Z","a":1.00535,"b":1.00149,"seg":"s3","trend":"up"},
      {"t":"2022-10-27T02:15Z","a":1.00546,"b":1.00149,"seg":"s3","trend":"up"},
      {"t":"2022-10-27T02:30Z","a":1.00554,"b":1.00156,"seg":"s3","trend":"up"},
      {"t":"2022-10-27T02:45Z","a":1.00566,"b":1.00192,"seg":"s3","trend":"up"},
      {"t":"2022-10-27T03:00Z","a":1.00574,"b":1.00219,"seg":"s3","trend":"up"},
      {"t":"2022-10-27T03:15Z","a":1.00578,"b":1.00262,"seg":"s3","trend":"up"},
      {"t":"2022-10-27T03:30Z","a":1.00582,"b":1.00281,"seg":"s3","trend":"up"},
      {"t":"2022-10-27T03:45Z","a":1.00589,"b":1.00285,"seg":"s3","trend":"up"},
      {"t":"2022-10-27T04:00Z","a":1.00601,"b":1.00297,"seg":"s3","trend":"up"},
      {"t":"2022-10-27T04:15Z","a":1.00613,"b":1.00305,"seg":"s3","trend":"up"},
      {"t":"2022-10-27T04:30Z","a":1.00624,"b":1.00309,"seg":"s3","trend":"up"},
      {"t":"2022-10-27T04:45Z","a":1.00636,"b":1.00398,"seg":"s3","trend":"up"},
      {"t":"2022-10-27T05:00Z","a":1.00652,"b":1.00398,"seg":"s3","trend":"up"},
      {"t":"2022-10-27T05:15Z","a":1.00671,"b":1.00398,"seg":"s3","trend":"up"},
      {"t":"2022-10-27T05:30Z","a":1.00687,"b":1.00398,"seg":"s3","trend":"up"},
      {"t":"2022-10-27T05:45Z","a":1.00706,"b":1.00398,"seg":"s3","trend":"up"},
      {"t":"2022-10-27T06:00Z","a":1.00738,"b":1.00398,"seg":"s3","trend":"up"},
      {"t":"2022-10-27T06:15Z","a":1.00749,"b":1.00398,"seg":"s3","trend":"up"},
      {"t":"2022-10-27T06:45Z","a":1.00753,"b":1.00398,"seg":"s3","trend":"up"},
      {"t":"2022-10-27T07:15Z","a":1.00757,"b":1.00398,"seg":"s3","trend":"up"},
      {"t":"2022-10-27T07:30Z","a":1.00765,"b":1.00398,"seg":"s3","trend":"up"},
      {"t":"2022-10-27T07:45Z","a":1.00788,"b":1.00418,"seg":"s3","trend":"up"},
      {"t":"2022-10-27T08:00Z","a":1.00815,"b":1.00433,"seg":"s3","trend":"up"},
      {"t":"2022-10-27T08:15Z","a":1.00823,"b":1.00437,"seg":"s3","trend":"up"},
      {"t":"2022-10-27T08:30Z","a":1.00831,"b":1.00437,"seg":"s3","trend":"up"},
      {"t":"2022-10-27T09:45Z","a":1.00831,"b":1.00437,"seg":"s3","trend":"up"},
      {"t":"2022-10-27T10:00Z","a":1.00823,"b":1.00437,"seg":"s3","trend":"up"},
      {"t":"2022-10-27T10:15Z","a":1.00812,"b":1.00465,"seg":"s3","trend":"up"},
      {"t":"2022-10-27T10:30Z","a":1.00788,"b":1.00488,"seg":"s3","trend":"up"},
      {"t":"2022-10-27T10:45Z","a":1.00769,"b":1.00492,"seg":"s3","trend":"up"},
      {"t":"2022-10-27T11:00Z","a":1.00753,"b":1.00519,"seg":"s3","trend":"up"},
      {"t":"2022-10-27T11:15Z","a":1.00741,"b":1.00539,"seg":"s3","trend":"up"},
      {"t":"2022-10-27T11:30Z","a":1.00734,"b":1.00558,"seg":"s3","trend":"up"},
      {"t":"2022-10-27T11:45Z","a":1.00726,"b":1.00578,"seg":"s3","trend":"up"},
      {"t":"2022-10-27T12:00Z","a":1.00718,"b":1.00593,"seg":"s3","trend":"up"},
      {"t":"2022-10-27T12:15Z","a":1.00722,"b":1.00636,"seg":"s3","trend":"up"},
      {"t":"2022-10-27T12:30Z","a":1.00722,"b":1.00722,"seg":"s3","trend":"up"},
      {"t":"2022-10-27T12:30Z","a":1.00722,"b":1.00722,"seg":"s4","trend":"down"},
      {"t":"2022-10-27T12:45Z","a":1.00718,"b":1.00757,"seg":"s4","trend":"down"},
      {"t":"2022-10-27T13:00Z","a":1.00726,"b":1.00765,"seg":"s4","trend":"down"},
      {"t":"2022-10-27T13:15Z","a":1.00734,"b":1.00765,"seg":"s4","trend":"down"},
      {"t":"2022-10-27T13:30Z","a":1.00738,"b":1.00765,"seg":"s4","trend":"down"},
      {"t":"2022-10-27T13:45Z","a":1.00741,"b":1.00765,"seg":"s4","trend":"down"},
      {"t":"2022-10-27T14:15Z","a":1.00745,"b":1.00765,"seg":"s4","trend":"down"},
      {"t":"2022-10-27T14:30Z","a":1.00738,"b":1.00765,"seg":"s4","trend":"down"},
      {"t":"2022-10-27T14:45Z","a":1.00726,"b":1.00726,"seg":"s4","trend":"down"},
      {"t":"2022-10-27T15:00Z","a":1.00699,"b":1.00726,"seg":"s4","trend":"down"},
      {"t":"2022-10-27T15:15Z","a":1.00683,"b":1.00726,"seg":"s4","trend":"down"},
      {"t":"2022-10-27T15:30Z","a":1.00671,"b":1.00726,"seg":"s4","trend":"down"},
      {"t":"2022-10-27T16:00Z","a":1.00667,"b":1.00726,"seg":"s4","trend":"down"},
      {"t":"2022-10-27T16:15Z","a":1.00663,"b":1.00726,"seg":"s4","trend":"down"},
      {"t":"2022-10-27T16:30Z","a":1.00656,"b":1.00726,"seg":"s4","trend":"down"},
      {"t":"2022-10-27T17:00Z","a":1.00652,"b":1.00726,"seg":"s4","trend":"down"}
    ],
    "levels": [
      {"p":1.0126,"note":"ks + ssb 1d"},
      {"p":1.0110,"note":"ssb 1d"}
    ],
    "trends": [
      {"id":"down","t":"2022-10-26T02:00Z","p":1.00921},
      {"id":"down","t":"2022-10-28T07:15Z","p":1.00734},
      {"id":"up","t":"2022-10-27T08:55Z","p":1.00535},
      {"id":"up","t":"2022-10-28T04:30Z","p":1.01721}
    ],
    "lastPrice": [{"p":1.0066}],
    "tags": [
      {"label":"1.0126","at":1.0126,"kind":"level"},
      {"label":"1.0110","at":1.0110,"kind":"level"},
      {"label":"1.0072","at":1.00823,"kind":"spanB"},
      {"label":"1.0067","at":1.00784,"kind":"base"},
      {"label":"1.0066","at":1.0066,"kind":"lagging"},
      {"label":"1.0065","at":1.00617,"kind":"spanA"},
      {"label":"1.0064","at":1.00574,"kind":"conversion"}
    ],
    "priceTag": [
      {"label":"1.0066","at":1.00738},
      {"label":"05:43","at":1.00703}
    ]
  },
  "layer": [
    {
      "data": {"name": "xticks"},
      "mark": {"type": "rule", "color": "#1e222d", "strokeWidth": 1},
      "encoding": {
        "x": {"field": "t", "type": "temporal", "axis": null,
          "scale": {"type": "utc", "domain": [{"year": 2022, "month": 10, "date": 25, "hours": 18, "minutes": 32, "utc": true}, {"year": 2022, "month": 10, "date": 28, "hours": 7, "minutes": 15, "utc": true}]}}
      }
    },
    {
      "data": {"name": "yticks"},
      "mark": {"type": "rule", "color": "#1e222d", "strokeWidth": 1},
      "encoding": {
        "y": {"field": "v", "type": "quantitative", "axis": null, "scale": {"domain": [0.99603, 1.016735], "nice": false, "zero": false}}
      }
    },
    {
      "data": {"name": "cloud"},
      "mark": {"type": "area", "clip": true, "opacity": 0.13},
      "encoding": {
        "x": {"field": "t", "type": "temporal", "axis": null,
          "scale": {"type": "utc", "domain": [{"year": 2022, "month": 10, "date": 25, "hours": 18, "minutes": 32, "utc": true}, {"year": 2022, "month": 10, "date": 28, "hours": 7, "minutes": 15, "utc": true}]}},
        "y": {"field": "a", "type": "quantitative", "axis": null, "scale": {"domain": [0.99603, 1.016735], "nice": false, "zero": false}},
        "y2": {"field": "b"},
        "detail": {"field": "seg"},
        "color": {"field": "trend", "type": "nominal", "scale": {"domain": ["up", "down"], "range": ["#43a047", "#f44336"]}, "legend": null}
      }
    },
    {
      "data": {"name": "cloud"},
      "mark": {"type": "line", "clip": true, "strokeWidth": 1, "color": "#a5d6a7", "opacity": 0.75},
      "encoding": {
        "x": {"field": "t", "type": "temporal", "axis": null,
          "scale": {"type": "utc", "domain": [{"year": 2022, "month": 10, "date": 25, "hours": 18, "minutes": 32, "utc": true}, {"year": 2022, "month": 10, "date": 28, "hours": 7, "minutes": 15, "utc": true}]}},
        "y": {"field": "a", "type": "quantitative", "axis": null, "scale": {"domain": [0.99603, 1.016735], "nice": false, "zero": false}}
      }
    },
    {
      "data": {"name": "cloud"},
      "mark": {"type": "line", "clip": true, "strokeWidth": 1, "color": "#ef9a9a", "opacity": 0.75},
      "encoding": {
        "x": {"field": "t", "type": "temporal", "axis": null,
          "scale": {"type": "utc", "domain": [{"year": 2022, "month": 10, "date": 25, "hours": 18, "minutes": 32, "utc": true}, {"year": 2022, "month": 10, "date": 28, "hours": 7, "minutes": 15, "utc": true}]}},
        "y": {"field": "b", "type": "quantitative", "axis": null, "scale": {"domain": [0.99603, 1.016735], "nice": false, "zero": false}}
      }
    },
    {
      "data": {"name": "lagging"},
      "mark": {"type": "line", "clip": true, "strokeWidth": 1, "color": "#43a047", "opacity": 0.7},
      "encoding": {
        "x": {"field": "t", "type": "temporal", "axis": null,
          "scale": {"type": "utc", "domain": [{"year": 2022, "month": 10, "date": 25, "hours": 18, "minutes": 32, "utc": true}, {"year": 2022, "month": 10, "date": 28, "hours": 7, "minutes": 15, "utc": true}]}},
        "y": {"field": "v", "type": "quantitative", "axis": null, "scale": {"domain": [0.99603, 1.016735], "nice": false, "zero": false}}
      }
    },
    {
      "data": {"name": "kijun"},
      "mark": {"type": "line", "clip": true, "strokeWidth": 1, "color": "#b71c1c", "opacity": 0.85},
      "encoding": {
        "x": {"field": "t", "type": "temporal", "axis": null,
          "scale": {"type": "utc", "domain": [{"year": 2022, "month": 10, "date": 25, "hours": 18, "minutes": 32, "utc": true}, {"year": 2022, "month": 10, "date": 28, "hours": 7, "minutes": 15, "utc": true}]}},
        "y": {"field": "v", "type": "quantitative", "axis": null, "scale": {"domain": [0.99603, 1.016735], "nice": false, "zero": false}}
      }
    },
    {
      "data": {"name": "tenkan"},
      "mark": {"type": "line", "clip": true, "strokeWidth": 1, "color": "#2962ff"},
      "encoding": {
        "x": {"field": "t", "type": "temporal", "axis": null,
          "scale": {"type": "utc", "domain": [{"year": 2022, "month": 10, "date": 25, "hours": 18, "minutes": 32, "utc": true}, {"year": 2022, "month": 10, "date": 28, "hours": 7, "minutes": 15, "utc": true}]}},
        "y": {"field": "v", "type": "quantitative", "axis": null, "scale": {"domain": [0.99603, 1.016735], "nice": false, "zero": false}}
      }
    },
    {
      "data": {"name": "candles"},
      "mark": {"type": "rule", "clip": true, "strokeWidth": 1},
      "encoding": {
        "x": {"field": "t", "type": "temporal", "axis": null,
          "scale": {"type": "utc", "domain": [{"year": 2022, "month": 10, "date": 25, "hours": 18, "minutes": 32, "utc": true}, {"year": 2022, "month": 10, "date": 28, "hours": 7, "minutes": 15, "utc": true}]}},
        "y": {"field": "l", "type": "quantitative", "axis": null, "scale": {"domain": [0.99603, 1.016735], "nice": false, "zero": false}},
        "y2": {"field": "h"},
        "color": {"condition": {"test": "datum.c >= datum.o", "value": "#089981"}, "value": "#f23645"}
      }
    },
    {
      "data": {"name": "candles"},
      "mark": {"type": "bar", "clip": true, "width": 2.6},
      "encoding": {
        "x": {"field": "t", "type": "temporal", "axis": null,
          "scale": {"type": "utc", "domain": [{"year": 2022, "month": 10, "date": 25, "hours": 18, "minutes": 32, "utc": true}, {"year": 2022, "month": 10, "date": 28, "hours": 7, "minutes": 15, "utc": true}]}},
        "y": {"field": "o", "type": "quantitative", "axis": null, "scale": {"domain": [0.99603, 1.016735], "nice": false, "zero": false}},
        "y2": {"field": "c"},
        "color": {"condition": {"test": "datum.c >= datum.o", "value": "#089981"}, "value": "#f23645"}
      }
    },
    {
      "data": {"name": "lastPrice"},
      "mark": {"type": "rule", "color": "#f23645", "opacity": 0.55, "strokeWidth": 1, "strokeDash": [1, 2]},
      "encoding": {
        "y": {"field": "p", "type": "quantitative", "axis": null, "scale": {"domain": [0.99603, 1.016735], "nice": false, "zero": false}}
      }
    },
    {
      "data": {"name": "levels"},
      "mark": {"type": "rule", "color": "#2962ff", "strokeWidth": 1.5},
      "encoding": {
        "y": {"field": "p", "type": "quantitative", "axis": null, "scale": {"domain": [0.99603, 1.016735], "nice": false, "zero": false}}
      }
    },
    {
      "data": {"name": "levels"},
      "mark": {"type": "text", "align": "right", "baseline": "middle", "dx": -3, "dy": 7, "fontSize": 7.5, "color": "#2962ff"},
      "encoding": {
        "x": {"value": "width"},
        "y": {"field": "p", "type": "quantitative", "axis": null, "scale": {"domain": [0.99603, 1.016735], "nice": false, "zero": false}},
        "text": {"field": "note"}
      }
    },
    {
      "data": {"name": "trends"},
      "mark": {"type": "line", "clip": true, "color": "#2962ff", "strokeWidth": 1.5},
      "encoding": {
        "x": {"field": "t", "type": "temporal", "axis": null,
          "scale": {"type": "utc", "domain": [{"year": 2022, "month": 10, "date": 25, "hours": 18, "minutes": 32, "utc": true}, {"year": 2022, "month": 10, "date": 28, "hours": 7, "minutes": 15, "utc": true}]}},
        "y": {"field": "p", "type": "quantitative", "axis": null, "scale": {"domain": [0.99603, 1.016735], "nice": false, "zero": false}},
        "detail": {"field": "id"}
      }
    },
    {
      "data": {"name": "xticks"},
      "mark": {"type": "text", "align": "center", "baseline": "middle", "dy": 9, "fontSize": 7.5, "color": "#b2b5be"},
      "encoding": {
        "x": {"field": "t", "type": "temporal", "axis": null,
          "scale": {"type": "utc", "domain": [{"year": 2022, "month": 10, "date": 25, "hours": 18, "minutes": 32, "utc": true}, {"year": 2022, "month": 10, "date": 28, "hours": 7, "minutes": 15, "utc": true}]}},
        "y": {"value": "height"},
        "text": {"field": "label"}
      }
    },
    {
      "data": {"name": "yticks"},
      "mark": {"type": "text", "align": "left", "baseline": "middle", "dx": 5, "fontSize": 7.5, "color": "#b2b5be"},
      "encoding": {
        "x": {"value": "width"},
        "y": {"field": "v", "type": "quantitative", "axis": null, "scale": {"domain": [0.99603, 1.016735], "nice": false, "zero": false}},
        "text": {"field": "label"}
      }
    },
    {
      "data": {"name": "unit"},
      "mark": {"type": "text", "align": "left", "baseline": "middle", "dx": 5, "fontSize": 7.5, "color": "#b2b5be"},
      "encoding": {
        "x": {"value": "width"},
        "y": {"field": "p", "type": "quantitative", "axis": null, "scale": {"domain": [0.99603, 1.016735], "nice": false, "zero": false}},
        "text": {"field": "label"}
      }
    },
    {
      "data": {"name": "tags"},
      "mark": {"type": "rect", "x2Offset": 28, "yOffset": -5, "y2Offset": 5},
      "encoding": {
        "x": {"value": "width"},
        "x2": {"value": "width"},
        "y": {"field": "at", "type": "quantitative", "axis": null, "scale": {"domain": [0.99603, 1.016735], "nice": false, "zero": false}},
        "y2": {"field": "at"},
        "color": {"field": "kind", "type": "nominal", "legend": null,
          "scale": {"domain": ["level", "spanB", "base", "lagging", "spanA", "conversion"], "range": ["#2962ff", "#ef9a9a", "#c62838", "#2f5f3c", "#b9dfba", "#2962ff"]}}
      }
    },
    {
      "data": {"name": "tags"},
      "mark": {"type": "text", "align": "center", "baseline": "middle", "dx": 14, "fontSize": 7.5},
      "encoding": {
        "x": {"value": "width"},
        "y": {"field": "at", "type": "quantitative", "axis": null, "scale": {"domain": [0.99603, 1.016735], "nice": false, "zero": false}},
        "text": {"field": "label"},
        "color": {"field": "kind", "type": "nominal", "legend": null,
          "scale": {"domain": ["level", "spanB", "base", "lagging", "spanA", "conversion"], "range": ["#ffffff", "#4a1318", "#ffd9dc", "#d8f0d8", "#1b3d1e", "#ffffff"]}}
      }
    },
    {
      "data": {"name": "priceTag"},
      "mark": {"type": "rect", "color": "#f23645", "x2Offset": 28, "yOffset": -5, "y2Offset": 5},
      "encoding": {
        "x": {"value": "width"},
        "x2": {"value": "width"},
        "y": {"field": "at", "type": "quantitative", "axis": null, "scale": {"domain": [0.99603, 1.016735], "nice": false, "zero": false}},
        "y2": {"field": "at"}
      }
    },
    {
      "data": {"name": "priceTag"},
      "mark": {"type": "text", "align": "center", "baseline": "middle", "dx": 14, "fontSize": 7.5, "color": "#ffffff"},
      "encoding": {
        "x": {"value": "width"},
        "y": {"field": "at", "type": "quantitative", "axis": null, "scale": {"domain": [0.99603, 1.016735], "nice": false, "zero": false}},
        "text": {"field": "label"}
      }
    }
  ],
  "resolve": {"scale": {"color": "independent"}},
  "config": {
    "view": {"stroke": null},
    "font": "Liberation Sans Narrow, DejaVu Sans Condensed, Roboto, sans-serif"
  }
}
